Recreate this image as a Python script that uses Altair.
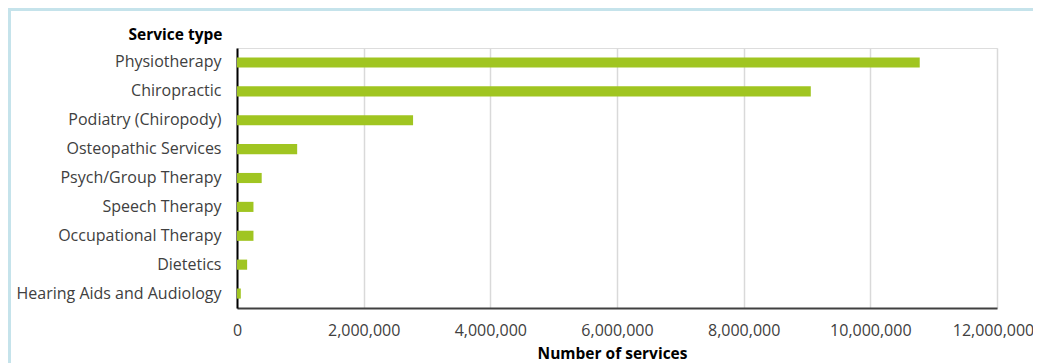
import altair as alt
import pandas as pd

services = [
    "Physiotherapy",
    "Chiropractic",
    "Podiatry (Chiropody)",
    "Osteopathic Services",
    "Psych/Group Therapy",
    "Speech Therapy",
    "Occupational Therapy",
    "Dietetics",
    "Hearing Aids and Audiology",
]
counts = [10780000, 9060000, 2780000, 950000, 390000, 260000, 260000, 160000, 60000]
x_ticks = [0, 2000000, 4000000, 6000000, 8000000, 10000000, 12000000]

df = pd.DataFrame({"service": services, "count": counts})

W, H = 760, 260
FONT = "Open Sans"
FRAME = "#c5e3eb"

one = pd.DataFrame({"a": [0]})
top_strip = alt.Chart(one).mark_rect(color=FRAME).encode(
    x=alt.value(-229), x2=alt.value(W + 36), y=alt.value(-40), y2=alt.value(-37)
)
left_strip = alt.Chart(one).mark_rect(color=FRAME).encode(
    x=alt.value(-229), x2=alt.value(-226), y=alt.value(-40), y2=alt.value(H + 60)
)

bars = alt.Chart(df).mark_bar(color="#a0c521").encode(
    x=alt.X(
        "count:Q",
        scale=alt.Scale(domain=[0, 12000000], nice=False),
        axis=alt.Axis(
            values=x_ticks,
            format=",.0f",
            title="Number of services",
            titleX=375,
            titleY=50,
            titleAlign="center",
            titleBaseline="alphabetic",
            titleFontWeight="bold",
            titleFontSize=15.5,
            titleColor="#000000",
            labelFontSize=16,
            labelColor="#404040",
            labelPadding=14,
            labelFlush=False,
            labelOverlap=False,
            labelOffset={"expr": "datum.value == 12000000 ? -4 : 0"},
            ticks=False,
            domainColor="#404040",
            domainWidth=2,
            grid=True,
            gridColor="#d9d9d9",
            gridWidth=1.5,
        ),
    ),
    y=alt.Y(
        "service:N",
        sort=services,
        scale=alt.Scale(paddingInner=0.65, paddingOuter=0.325),
        axis=alt.Axis(
            title="Service type",
            titleAngle=0,
            titleX=-15,
            titleY=-9,
            titleAlign="right",
            titleBaseline="alphabetic",
            titleFontWeight="bold",
            titleFontSize=15.5,
            titleColor="#000000",
            labelFontSize=16,
            labelColor="#404040",
            labelPadding=16,
            labelLimit=400,
            ticks=False,
            domainColor="#000000",
            domainWidth=2,
            grid=False,
        ),
    ),
)

chart = (
    alt.layer(top_strip, left_strip, bars)
    .properties(
        width=W,
        height=H,
        background="white",
        padding={"left": 229, "top": 40, "right": 36, "bottom": 55},
        autosize=alt.AutoSizeParams(type="none"),
    )
    .configure_view(stroke=None)
    .configure(font=FONT)
)

chart.save("out.html", embed_options={"renderer": "svg", "actions": False})
